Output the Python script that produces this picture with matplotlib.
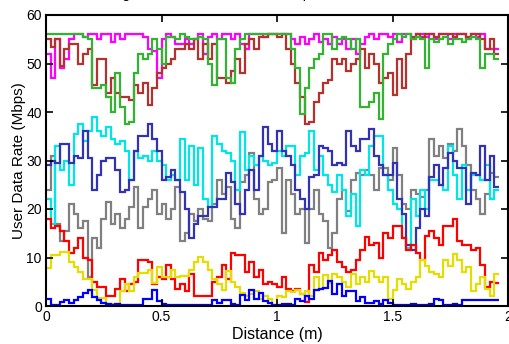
import numpy as np
import matplotlib
matplotlib.use("Agg")
import matplotlib.pyplot as plt

plt.rcParams['font.family'] = ['Liberation Sans', 'DejaVu Sans']

STEP = 0.02  # metres per sample

magenta = [52, 47, 55, 49, 51, 55, 56, 56, 55.5, 56, 56, 55, 56, 56, 54.5, 56, 55, 56, 56, 56,
           56, 55.5, 53, 52.5, 47, 55, 56, 55.5, 54, 54, 55, 54, 55, 56, 52, 55.5, 56, 55, 56, 56,
           55, 56, 54, 53, 56, 56, 56, 55.5, 56, 56, 56, 56, 56, 55, 54, 55.5, 54, 55, 56, 54.5,
           55, 54, 55.5, 54, 55, 53, 55, 52, 54, 55.5, 56, 55, 56, 56, 55.5, 56, 54.5, 56, 56, 55,
           56, 56, 55.5, 56, 55, 56, 56, 55, 56, 56, 56, 55, 56, 55.5, 56, 53, 53, 53]
green = [56, 56, 56, 56, 56, 56, 56, 56, 55.5, 55, 45, 45, 45.5, 43, 40, 48, 41, 37.5, 38, 48,
         52, 51, 52, 55, 53, 50, 55.5, 55.5, 55, 56, 55.5, 55, 55, 55.5, 55, 50, 45.5, 55, 55, 47,
         46, 53, 55, 56, 56, 56, 56, 56, 56, 56, 56, 56, 56, 53, 49, 39.5, 45, 49, 51, 52,
         56, 56, 53, 55, 55.5, 55, 53, 55, 41, 41, 42, 44, 38.5, 52, 54, 55, 56, 55.5, 56, 55,
         55.5, 55, 49, 55, 54.5, 55, 55.5, 54, 55, 55, 54.5, 55, 55.5, 55, 49, 52, 52, 51]
brown = [55, 53.5, 55, 49.5, 53, 54, 54, 50, 52, 53, 45.5, 51, 51, 44, 47, 44, 43, 43, 42.5, 45.5,
         44, 46, 41.5, 45, 48, 49, 50, 51, 53, 53, 54, 53, 55, 51, 54, 51, 54, 47, 47, 46,
         48.5, 51, 48, 54, 55, 53, 55.5, 55.5, 56, 56, 55.5, 56, 53, 50, 46, 43, 37.5, 38, 42, 44,
         46, 46.5, 51, 50, 51, 48.5, 50, 51, 53, 49, 52, 50, 46, 47, 48, 43.5, 51, 45, 52, 55.5,
         56, 55.5, 56, 56, 55.5, 56, 56, 56, 55.5, 56, 56, 55.5, 56, 56, 55, 53, 55, 52]
cyan = [22, 17, 33, 28, 30, 25, 35.5, 37.5, 34, 36, 39, 36, 35, 37, 34.5, 33.5, 34, 32, 26, 32,
        30.5, 31, 30, 32, 30, 29, 26, 27, 26, 34.5, 26, 33, 25, 32.5, 22, 20.5, 35, 33.5, 32, 31.5,
        30, 24, 35.8, 28, 31, 29, 31, 30, 29, 29.5, 32, 31, 33, 33, 27, 31, 31.5, 36, 28, 31,
        27, 25, 23.5, 27, 24, 18.5, 23, 16.5, 28, 27, 33, 35, 35, 27, 24, 21, 20, 14, 12, 22,
        18.5, 24, 20, 26, 26, 25, 24, 33, 27, 22, 29, 24, 27, 27, 26, 29, 22, 24]
navy = [29, 30, 29.5, 33.5, 33.5, 29.5, 31, 30.5, 36, 30.5, 24, 27, 30, 30.5, 30.5, 28, 23.5, 24, 26, 32,
        35, 35, 37.5, 34.5, 32, 26, 26.5, 28, 26, 23.5, 20, 14, 17, 18.5, 18.5, 20.5, 20.5, 22, 22, 27.5,
        25.5, 21, 19, 24, 28, 24, 31, 37, 33.5, 32, 36, 32, 31, 29, 24, 22, 20, 26.5, 27, 33,
        32.5, 32, 29, 29.5, 29, 36, 33, 32, 34.5, 34.5, 36.5, 31, 29, 27, 27, 29.5, 22, 19, 12.5, 11.5,
        16, 20, 18.5, 26.5, 29, 25, 28.5, 31.5, 30, 28.5, 28.5, 21, 27.5, 27, 33, 26, 31, 24.5]
gray = [24, 31, 17, 13.5, 15.5, 21, 19, 16, 17.5, 6, 14, 12, 18, 21.5, 17, 19, 16, 18, 20.5, 24.5,
        16, 20.5, 22, 24, 19, 21, 18, 20, 24.5, 13.5, 15, 19, 17.5, 20, 18, 17.5, 21, 26, 23, 24.5,
        18, 16, 25.5, 27, 31.5, 22, 19, 20, 25.5, 26, 28.5, 15, 26, 23, 19, 20, 13, 20, 24, 19,
        17.5, 12, 15, 22, 24, 19.5, 26, 27.5, 27, 28, 27, 24, 28.5, 28.5, 26, 32.5, 27, 21, 20, 24,
        23, 22.5, 24, 34.5, 31, 33, 30.5, 33.5, 32, 36.5, 33, 29, 24, 22, 19, 23, 27.5, 26.5]
red = [18, 16, 16.5, 15.5, 13.5, 11, 12, 14, 10, 9.5, 5, 4, 4, 2, 2, 3.5, 5.5, 3, 4.5, 5,
       9.5, 9.5, 9, 4.5, 6, 5.5, 8.5, 5.5, 3.5, 4.5, 3, 6.5, 2, 2, 2, 2, 5, 6, 8.5, 5.5,
       11, 10.5, 10.5, 7, 9, 6, 7.5, 4.5, 5, 4.5, 4, 6, 3.5, 3, 3.5, 2.5, 0.8, 8.5, 7, 11,
       9.5, 10.5, 11.5, 9, 8, 7, 7.5, 9.5, 11.5, 14.2, 12.5, 13, 10, 15, 14, 16.5, 16.5, 14, 11.5, 12.5,
       11, 9.5, 14.5, 15.5, 14, 12.5, 16.5, 16.5, 18, 13.5, 12.5, 12.5, 11.5, 12, 8.5, 4, 5, 4.7]
yellow = [7.8, 10.6, 10.6, 11.2, 11.2, 9, 8, 7, 5.5, 5.5, 3.3, 1.6, 1.6, 0.5, 0.4, 0.5, 3, 4.5, 3, 6,
          6.8, 6.8, 7.5, 4.8, 8, 5.9, 5.9, 7.5, 6, 6.2, 6.2, 7.5, 9, 10.2, 9, 7.5, 5.5, 4.5, 3.4, 7.2,
          5, 4, 2.7, 2, 2.5, 3, 1.5, 2, 1.5, 0.3, 2, 1.8, 3, 2.8, 3.4, 2.5, 3, 2, 5.9, 3.5,
          6.3, 4.8, 6.6, 6, 5, 4, 6.5, 4.5, 6, 5, 7.2, 6, 5, 6, 1.5, 3.4, 5.5, 4.5, 3.5, 5,
          6, 9.5, 8.2, 7, 6.5, 6, 9.5, 8.2, 10.8, 9.5, 7, 8, 3, 4.5, 6, 3.5, 2, 6.5]
blue = [1.5, 0.2, 0.2, 0.8, 1.2, 0.6, 1.2, 1.9, 2.6, 3.3, 1.9, 1.2, 0.7, 0.5, 0.3, 0.4, 0.2, 0.2, 0.2, 0.3,
        0.2, 1.5, 1.5, 3.2, 1, 0.5, 0.2, 0.2, 0.2, 0.2, 0.2, 0.2, 0.2, 0.2, 0.2, 0.2, 1.2, 0.7, 1.2, 1.2,
        0.5, 0.3, 2.3, 1.2, 3.3, 1.5, 2.6, 1, 0.6, 0.3, 0.2, 0.4, 0.5, 0.3, 1.5, 1, 2, 1.5, 3.3, 3.6,
        3.8, 5.2, 2.5, 4.5, 2, 3, 3, 1, 1.9, 0.6, 0.6, 1, 0.5, 1.2, 0.6, 0.3, 0.3, 0.2, 0.3, 0.5,
        0.3, 0.2, 0.3, 0.5, 1.5, 1.2, 0.3, 0.3, 0.4, 0.2, 1.2, 1.2, 1.2, 1.2, 1.2, 1.2, 1.2, 1.2]

series = [
    (gray, '#808080'),
    (cyan, '#00e5e5'),
    (navy, '#3232b4'),
    (red, '#ff0000'),
    (yellow, '#e6dc00'),
    (blue, '#0000ff'),
    (magenta, '#ff00ff'),
    (brown, '#b4312d'),
    (green, '#32b432'),
]

fig = plt.figure(figsize=(5.09, 3.44), dpi=100)
ax = fig.add_axes([46 / 509, 1 - 306 / 344, 462 / 509, 291 / 344])

for vals, col in series:
    edges = np.arange(len(vals) + 1) * STEP
    ax.stairs(vals, edges, baseline=None, color=col, linewidth=1.6)

ax.set_xlim(0, 2)
ax.set_ylim(0, 60)
ax.set_xticks([0, 0.5, 1, 1.5, 2])
ax.set_xticklabels(['0', '0.5', '1', '1.5', '2'])
ax.set_yticks(range(0, 61, 10))
ax.tick_params(direction='in', length=5, width=1.2, top=True, right=True,
               labelsize=10, colors='black', pad=3)
for sp in ax.spines.values():
    sp.set_linewidth(1.5)
    sp.set_color('black')

ax.set_xlabel('Distance (m)', fontsize=11.5, labelpad=2)
ax.set_ylabel('User Data Rate (Mbps)', fontsize=11, labelpad=0)

# Figure heading sits just above the top edge of the canvas
fig.text(30 / 509, 1 + 2 / 344, 'Data rate along the track for each AP setup',
         fontsize=10.5, ha='left', va='baseline')

fig.savefig('out.png', dpi=100)
